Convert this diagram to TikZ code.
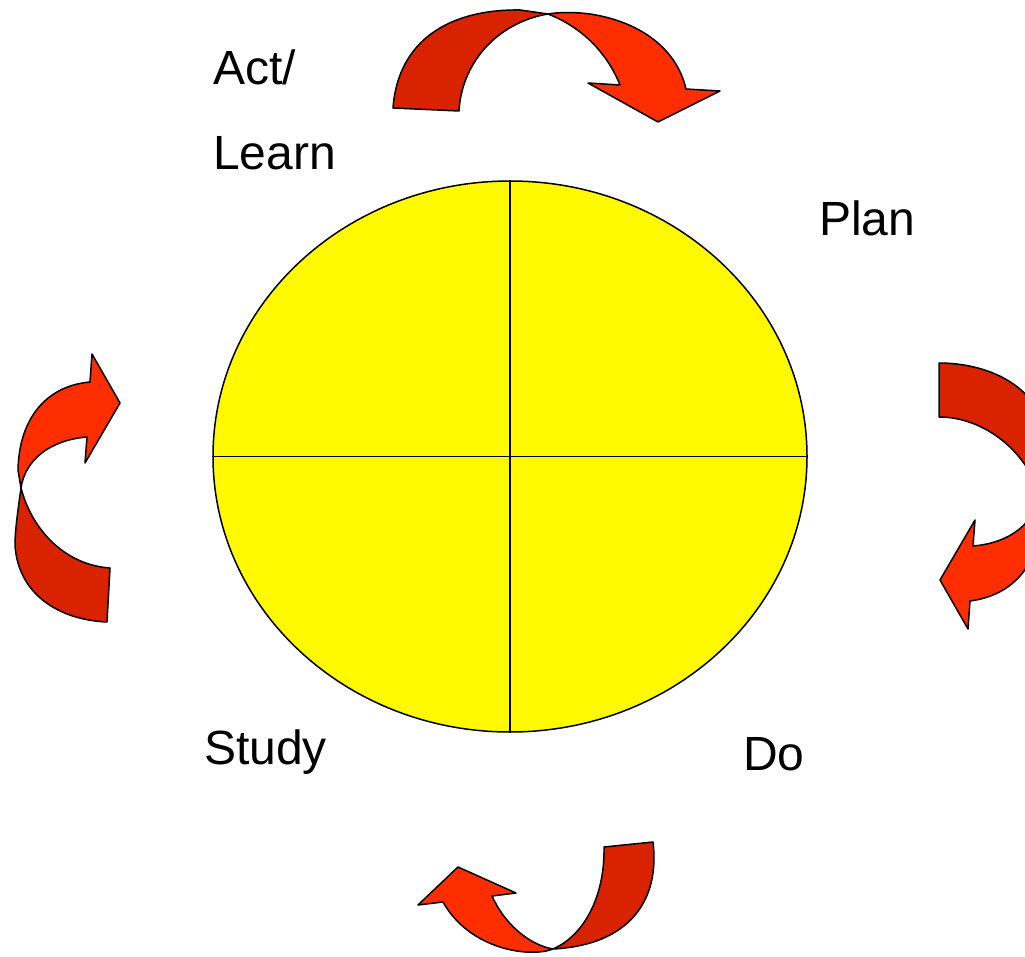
\documentclass[tikz,border=0pt]{standalone}
\usepackage{fontspec}
\setmainfont{Liberation Sans}
\usetikzlibrary{shapes.geometric}
\definecolor{discY}{RGB}{255,250,0}
\definecolor{arrDark}{RGB}{216,34,0}
\definecolor{arrBright}{RGB}{255,46,0}
\begin{document}
\begin{tikzpicture}[x=1pt,y=-1pt,
  outl/.style={draw=black,line width=1.5pt,line join=round},
  darkband/.style={outl,fill=arrDark},
  brightband/.style={outl,fill=arrBright},
  lbl/.style={anchor=base west,inner sep=0pt,font=\fontsize{48}{56}\selectfont}]
\useasboundingbox (0,0) rectangle (1025,957);
\clip (0,0) rectangle (1025,957);
% disc
\node[draw=black,line width=1.5pt,fill=discY,ellipse,minimum width=594pt,minimum height=551pt,inner sep=0pt] (disc) at (510,456.5) {};
\draw[line width=1.8pt] (disc.north) -- (disc.south);
\draw[line width=1.8pt] (disc.west) -- (disc.east);
% labels
\node[lbl] (act) at (213,85) {Act/};
\node[lbl] (learn) at (213,170) {Learn};
\node[lbl] (plan) at (819,236) {Plan};
\node[lbl] (study) at (204,764) {Study};
\node[lbl] (do) at (743,770) {Do};
% top arrow
\draw[darkband] (393,108) .. controls (398,40) and (450,9) .. (520,10) -- (548,14)
  .. controls (500,22) and (462,60) .. (459,111) -- cycle;
\draw[brightband] (548,14) .. controls (560,12) and (575,12) .. (590,14)
  .. controls (642,22) and (677,50) .. (686,89) -- (720,91) -- (658,122) -- (588,83) -- (620,85)
  .. controls (608,55) and (584,28) .. (548,14) -- cycle;
% right arrow
\draw[darkband] (1039,495) .. controls (1042,473) and (1045,453) .. (1045,438)
  .. controls (1042,388) and (990,363) .. (939,363) -- (939,417)
  .. controls (985,417) and (1028,453) .. (1039,495) -- cycle;
\draw[brightband] (1039,495) .. controls (1035,523) and (1010,543) .. (973,546) -- (975,520)
  -- (940,580) -- (968,629) -- (970,601) .. controls (1015,595) and (1040,563) .. (1042,513) -- cycle;
% bottom arrow
\draw[darkband] (604,847) -- (653,842) .. controls (660,900) and (630,945) .. (553,949)
  .. controls (585,935) and (605,895) .. (604,847) -- cycle;
\draw[brightband] (553,949) .. controls (530,958) and (470,950) .. (443,902) -- (418,905)
  -- (458,867) -- (516,893) -- (492,896) .. controls (505,925) and (530,945) .. (553,949) -- cycle;
% left arrow
\draw[darkband] (21,488) .. controls (18,510) and (15,530) .. (15,545)
  .. controls (18,595) and (60,620) .. (107,622) -- (110,568)
  .. controls (65,565) and (32,530) .. (21,488) -- cycle;
\draw[brightband] (21,488) .. controls (25,460) and (50,440) .. (87,437) -- (85,463)
  -- (120,403) -- (92,354) -- (90,382) .. controls (45,386) and (19,420) .. (18,470) -- cycle;
\end{tikzpicture}
\end{document}
